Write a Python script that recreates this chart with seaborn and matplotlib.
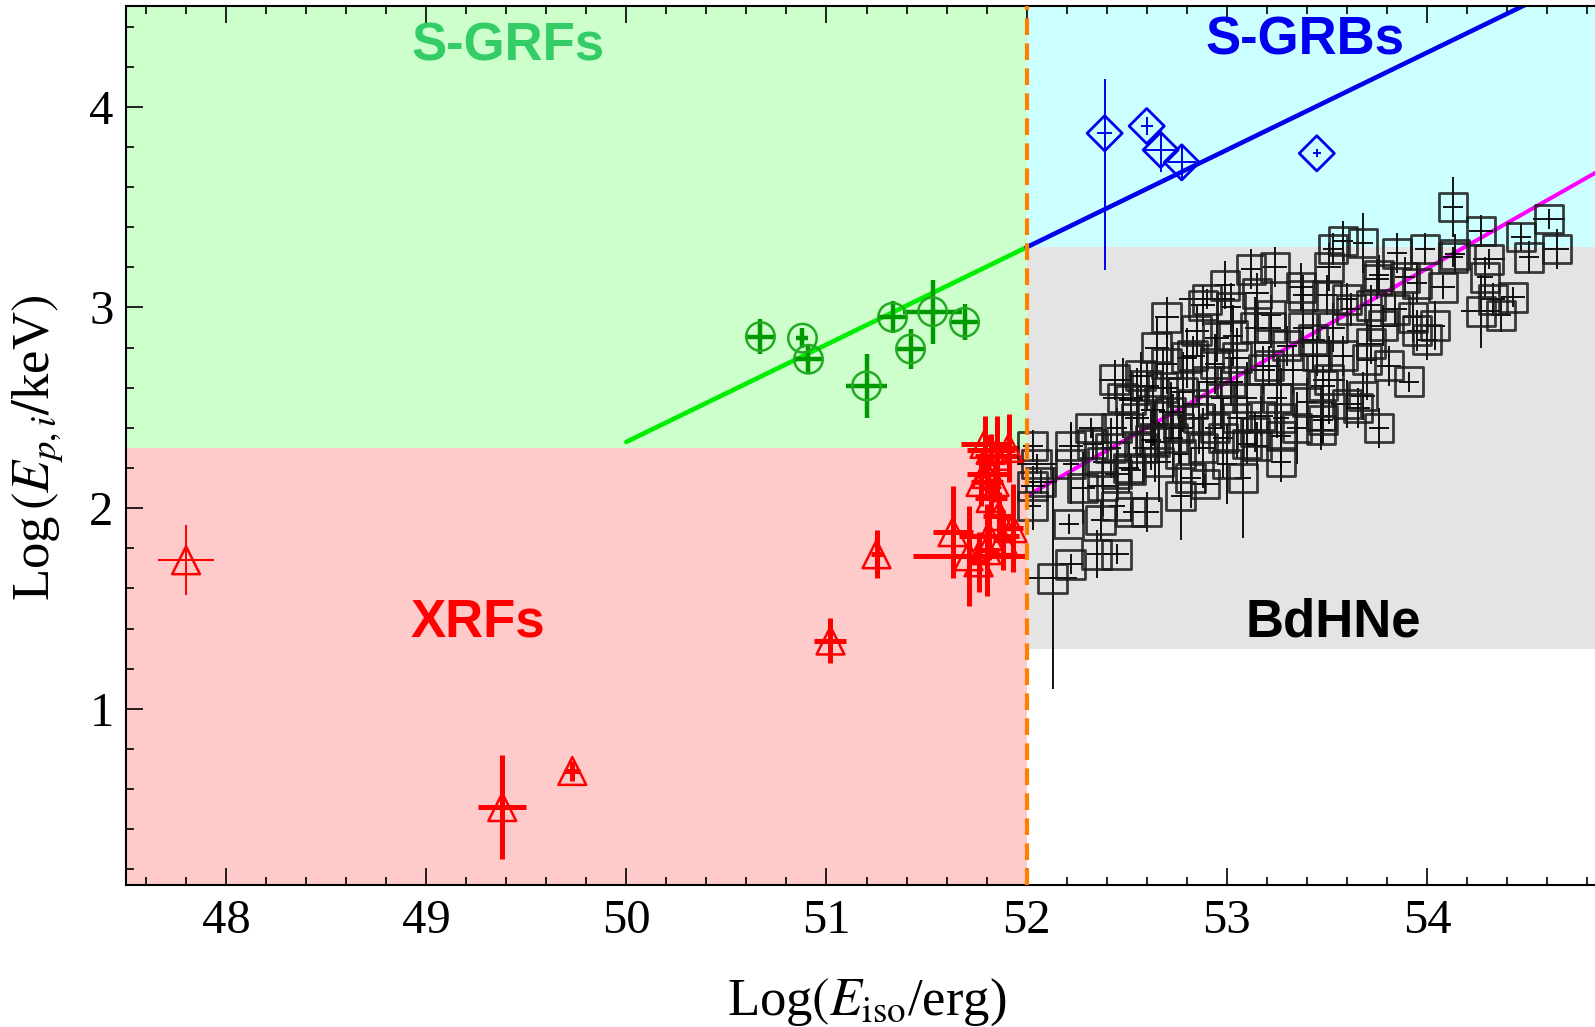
import matplotlib
matplotlib.use("Agg")
import matplotlib.pyplot as plt
from matplotlib.ticker import MultipleLocator
import seaborn as sns

# ---------------- data ----------------
# X-ray flashes (XRFs): log Eiso, log Ep,i and their uncertainties
xrf_x = [49.38, 49.73, 51.02, 51.25, 51.63, 51.71, 51.80, 51.79, 51.85, 51.91,
         51.93, 51.82, 51.80, 51.82, 51.86, 51.81, 51.77, 51.84, 51.88, 51.76]
xrf_y = [0.51, 0.69, 1.34, 1.77, 1.88, 1.76, 1.79, 2.32, 2.26, 2.30,
         1.90, 2.29, 2.17, 2.05, 1.96, 1.86, 2.13, 2.13, 1.84, 1.73]
xrf_xerr = [0.12, 0.04, 0.08, 0.03, 0.10, 0.28, 0.06, 0.12, 0.11, 0.05,
            0.05, 0.12, 0.10, 0.08, 0.08, 0.15, 0.05, 0.04, 0.05, 0.04]
xrf_yerr = [0.26, 0.05, 0.11, 0.12, 0.23, 0.25, 0.23, 0.14, 0.20, 0.17,
            0.22, 0.08, 0.10, 0.10, 0.12, 0.12, 0.12, 0.10, 0.15, 0.15]
# nearby low-energy XRF
xrf_low_x = [47.80]
xrf_low_y = [1.74]
xrf_low_xerr = [0.14]
xrf_low_yerr = [0.175]

# short gamma-ray flashes (S-GRFs)
sgrf_x = [50.67, 50.88, 50.91, 51.20, 51.33, 51.42, 51.53, 51.69]
sgrf_y = [2.855, 2.847, 2.742, 2.609, 2.951, 2.793, 2.979, 2.926]
sgrf_xerr = [0.07, 0.03, 0.067, 0.104, 0.067, 0.07, 0.148, 0.07]
sgrf_yerr = [0.087, 0.05, 0.075, 0.158, 0.079, 0.10, 0.16, 0.09]

# short gamma-ray bursts (S-GRBs)
sgrb_x = [52.39, 52.60, 52.67, 52.775, 53.45]
sgrb_y = [3.868, 3.904, 3.785, 3.723, 3.768]
sgrb_xerr = [0.037, 0.03, 0.09, 0.07, 0.02]
sgrb_yerr_lo = [0.68, 0.045, 0.11, 0.08, 0.02]
sgrb_yerr_hi = [0.27, 0.045, 0.11, 0.08, 0.02]

# binary-driven hypernovae (BdHNe)
bdhne_x = [52.03, 52.03, 52.03, 52.07, 52.05, 52.13, 52.21, 52.22, 52.22, 52.22,
           52.32, 52.35, 52.45, 52.38, 52.37, 52.45, 52.52, 52.45, 52.60, 52.52,
           52.77, 52.89, 52.44, 52.62, 52.63, 52.77, 53.10, 52.57, 52.70, 52.83,
           52.90, 53.02, 53.15, 53.14, 53.03, 53.24, 53.37, 53.38, 53.43, 54.13,
           54.27, 54.61, 54.47, 54.65, 54.51, 54.13, 54.31, 54.29, 54.43, 54.27,
           54.37, 54.08, 54.00, 53.91, 53.85, 53.68, 53.58, 53.51, 53.75, 53.95,
           53.93, 53.78, 53.72, 53.70, 53.60, 53.47, 53.47, 53.27, 53.17, 53.15,
           53.33, 53.45, 53.53, 53.62, 53.51, 53.22, 53.18, 52.33, 52.52, 52.64,
           52.72, 52.76, 52.83, 52.88, 52.94, 53.02, 53.05, 53.14, 53.21, 53.27,
           53.30, 53.48, 53.48, 53.58, 53.68, 53.72, 53.84, 53.89, 53.95, 54.04,
           53.99, 54.14, 54.33, 53.12, 52.99, 52.85, 52.70, 52.80, 52.90, 52.60,
           52.45, 52.38, 52.51, 52.66, 52.94, 52.82, 53.27, 53.40, 53.655, 53.76,
           53.81, 53.22, 53.38, 53.50, 53.60, 53.76, 53.53,
           52.48, 52.55, 52.58, 52.68, 52.73, 52.78, 52.86, 52.88, 52.97, 53.00,
           53.05, 53.08, 53.10, 52.95, 52.65, 52.98, 53.25, 53.35, 52.42, 52.28]
bdhne_y = [2.31, 2.11, 2.01, 2.13, 2.22, 1.65, 1.92, 1.72, 2.31, 2.22,
           2.40, 1.77, 1.77, 2.11, 1.94, 2.17, 2.19, 2.01, 1.98, 1.98,
           2.06, 2.12, 2.64, 2.34, 2.49, 2.27, 2.32, 2.66, 2.72, 2.76,
           3.04, 3.00, 3.07, 2.90, 2.86, 3.20, 3.10, 2.90, 2.84, 3.50,
           3.38, 3.44, 3.35, 3.29, 3.25, 3.25, 3.24, 3.15, 3.05, 2.98,
           2.96, 3.10, 2.84, 2.63, 3.27, 3.32, 3.33, 3.20, 3.14, 3.12,
           2.95, 2.91, 2.82, 2.74, 2.52, 2.46, 2.39, 2.36, 2.46, 2.31,
           2.69, 2.76, 2.90, 2.99, 2.64, 2.90, 2.69, 2.32, 2.54, 2.33,
           2.48, 2.40, 2.52, 3.01, 2.72, 2.63, 2.45, 2.38, 2.71, 2.45,
           2.81, 2.44, 2.61, 2.76, 2.56, 3.01, 2.99, 3.15, 2.885, 2.91,
           3.29, 3.265, 3.04, 3.19, 3.11, 2.885, 2.95, 2.75, 2.63, 2.61,
           2.40, 2.23, 2.20, 2.23, 2.40, 2.15, 2.23, 2.53, 2.50, 2.40,
           2.71, 2.96, 3.06, 3.06, 3.04, 3.16, 3.29,
           2.55, 2.45, 2.30, 2.60, 2.35, 2.58, 2.45, 2.30, 2.55, 2.22,
           2.75, 2.15, 2.55, 2.85, 2.80, 2.35, 2.55, 2.40, 2.30, 2.10]
bdhne_xerr = [0.05, 0.06, 0.04, 0.08, 0.10, 0.12, 0.05, 0.06, 0.06, 0.04,
              0.06, 0.05, 0.06, 0.08, 0.05, 0.06, 0.05, 0.04, 0.06, 0.04,
              0.05, 0.07, 0.08, 0.05, 0.06, 0.04, 0.05, 0.06, 0.05, 0.06,
              0.14, 0.05, 0.06, 0.05, 0.05, 0.06, 0.06, 0.05, 0.06, 0.05,
              0.06, 0.08, 0.05, 0.06, 0.05, 0.05, 0.08, 0.04, 0.06, 0.10,
              0.05, 0.06, 0.05, 0.05, 0.05, 0.05, 0.05, 0.06, 0.06, 0.05,
              0.05, 0.08, 0.06, 0.05, 0.08, 0.05, 0.06, 0.05, 0.06, 0.05,
              0.08, 0.06, 0.06, 0.05, 0.08, 0.05, 0.06, 0.05, 0.06, 0.05,
              0.06, 0.07, 0.05, 0.06, 0.05, 0.06, 0.05, 0.05, 0.06, 0.04,
              0.05, 0.05, 0.06, 0.05, 0.06, 0.05, 0.06, 0.05, 0.05, 0.05,
              0.05, 0.05, 0.06, 0.05, 0.05, 0.06, 0.06, 0.05, 0.05, 0.06,
              0.05, 0.05, 0.05, 0.06, 0.05, 0.05, 0.05, 0.05, 0.06, 0.05,
              0.06, 0.05, 0.05, 0.05, 0.05, 0.05, 0.05,
              0.10, 0.06, 0.05, 0.08, 0.05, 0.06, 0.05, 0.06, 0.05, 0.05,
              0.06, 0.04, 0.05, 0.06, 0.06, 0.05, 0.05, 0.05, 0.05, 0.06]
bdhne_yerr = [0.08, 0.10, 0.12, 0.06, 0.05, 0.55, 0.05, 0.05, 0.12, 0.20,
              0.05, 0.12, 0.05, 0.15, 0.10, 0.12, 0.08, 0.06, 0.10, 0.05,
              0.22, 0.05, 0.10, 0.15, 0.18, 0.20, 0.10, 0.12, 0.15, 0.10,
              0.05, 0.12, 0.10, 0.15, 0.15, 0.10, 0.12, 0.10, 0.15, 0.15,
              0.08, 0.05, 0.07, 0.10, 0.08, 0.05, 0.05, 0.10, 0.05, 0.18,
              0.08, 0.06, 0.10, 0.05, 0.10, 0.15, 0.10, 0.12, 0.10, 0.10,
              0.12, 0.10, 0.10, 0.20, 0.12, 0.15, 0.10, 0.10, 0.10, 0.12,
              0.12, 0.10, 0.12, 0.08, 0.22, 0.10, 0.12, 0.08, 0.15, 0.20,
              0.15, 0.18, 0.12, 0.10, 0.15, 0.12, 0.20, 0.10, 0.10, 0.25,
              0.10, 0.12, 0.10, 0.10, 0.12, 0.10, 0.08, 0.10, 0.10, 0.12,
              0.08, 0.10, 0.08, 0.10, 0.12, 0.12, 0.10, 0.15, 0.15, 0.12,
              0.10, 0.15, 0.12, 0.20, 0.12, 0.15, 0.10, 0.12, 0.10, 0.10,
              0.10, 0.10, 0.10, 0.10, 0.08, 0.10, 0.08,
              0.20, 0.25, 0.18, 0.20, 0.22, 0.20, 0.18, 0.20, 0.15, 0.20,
              0.15, 0.30, 0.18, 0.12, 0.15, 0.20, 0.20, 0.18, 0.15, 0.18]

# Ep,i - Eiso relations
sgrf_fit_x = [50.0, 52.0]
sgrf_fit_y = [2.33, 3.30]
sgrb_fit_x = [52.0, 54.84]
sgrb_fit_y = [3.30, 4.677]
bdhne_fit_x = [52.0, 54.84]
bdhne_fit_y = [2.06, 3.67]

# class boundaries
eiso_split = 52.0
sgrf_floor = 2.3
sgrb_floor = 3.3
bdhne_floor = 1.3

# ---------------- figure ----------------
sns.set_theme(style="ticks")
plt.rcParams["font.family"] = ["Liberation Serif", "DejaVu Serif"]
plt.rcParams["mathtext.fontset"] = "stix"

fig = plt.figure(figsize=(15.95, 10.27), dpi=100)
ax = fig.add_axes([0.0790, 0.1383, 0.9210, 0.8558])
x_lo, x_hi = 47.5, 54.84
y_lo, y_hi = 0.122, 4.502

# shaded class regions
ax.fill_between([x_lo, eiso_split], sgrf_floor, y_hi, color="#ccffcc", lw=0, zorder=0)
ax.fill_between([x_lo, eiso_split], y_lo, sgrf_floor, color="#ffcaca", lw=0, zorder=0)
ax.fill_between([eiso_split, x_hi], sgrb_floor, y_hi, color="#ccffff", lw=0, zorder=0)
ax.fill_between([eiso_split, x_hi], bdhne_floor, sgrb_floor, color="#e4e4e4", lw=0, zorder=0)

# correlation lines
sns.lineplot(x=sgrf_fit_x, y=sgrf_fit_y, color="#00ee00", lw=3.3, ax=ax, zorder=2)
sns.lineplot(x=sgrb_fit_x, y=sgrb_fit_y, color="#0000ee", lw=3.3, ax=ax, zorder=2)
sns.lineplot(x=bdhne_fit_x, y=bdhne_fit_y, color="#ff00ff", lw=2.9, ax=ax, zorder=2)

# BdHNe
ax.errorbar(bdhne_x, bdhne_y, xerr=bdhne_xerr, yerr=bdhne_yerr, fmt="none",
            ecolor="black", elinewidth=1.3, capsize=0, zorder=3)
sns.scatterplot(x=bdhne_x, y=bdhne_y, marker="s", s=420, color="#1a1a1a",
                facecolors="none", edgecolor="#1a1a1a", linewidth=2.0, alpha=0.85,
                ax=ax, zorder=4, legend=False)

# S-GRBs
ax.errorbar(sgrb_x, sgrb_y, xerr=sgrb_xerr, yerr=[sgrb_yerr_lo, sgrb_yerr_hi],
            fmt="none", ecolor="#0000ee", elinewidth=1.4, capsize=0, zorder=3)
sns.scatterplot(x=sgrb_x, y=sgrb_y, marker="D", s=320, color="#0000ee",
                facecolors="none", edgecolor="#0000ee", linewidth=2.0,
                ax=ax, zorder=4, legend=False)

# S-GRFs
ax.errorbar(sgrf_x, sgrf_y, xerr=sgrf_xerr, yerr=sgrf_yerr, fmt="none",
            ecolor="#009900", elinewidth=3.2, capsize=0, zorder=3)
sns.scatterplot(x=sgrf_x, y=sgrf_y, marker="o", s=420, color="#22aa22",
                facecolors="none", edgecolor="#22aa22", linewidth=1.8,
                ax=ax, zorder=4, legend=False)

# XRFs
ax.errorbar(xrf_x, xrf_y, xerr=xrf_xerr, yerr=xrf_yerr, fmt="none",
            ecolor="#ff0000", elinewidth=3.6, capsize=0, zorder=3)
ax.errorbar(xrf_low_x, xrf_low_y, xerr=xrf_low_xerr, yerr=xrf_low_yerr, fmt="none",
            ecolor="#ff0000", elinewidth=1.4, capsize=0, zorder=3)
sns.scatterplot(x=xrf_x + xrf_low_x, y=xrf_y + xrf_low_y, marker="^", s=400,
                color="#ff0000", facecolors="none", edgecolor="#ff0000",
                linewidth=1.8, ax=ax, zorder=4, legend=False)

# Eiso = 10^52 erg separation
ax.axvline(eiso_split, color="#ff8000", lw=3.0, ls=(0, (4, 2)), zorder=6)

# class labels
label_font = dict(family="Liberation Sans", fontweight="bold", fontsize=38,
                  ha="center", va="center", zorder=7)
ax.text(49.41, 4.30, "S-GRFs", color="#33cc66", **label_font)
ax.text(53.39, 4.33, "S-GRBs", color="#0000ee", **label_font)
ax.text(49.26, 1.43, "XRFs", color="#ff0000", **label_font)
ax.text(53.53, 1.43, "BdHNe", color="black", **label_font)

# axes
ax.set_xlim(x_lo, x_hi)
ax.set_ylim(y_lo, y_hi)
ax.xaxis.set_major_locator(MultipleLocator(1))
ax.xaxis.set_minor_locator(MultipleLocator(0.2))
ax.yaxis.set_major_locator(MultipleLocator(1))
ax.yaxis.set_minor_locator(MultipleLocator(0.2))
ax.tick_params(which="both", direction="in", top=True, right=False,
               width=1.2, color="black", labelsize=35, labelcolor="black")
ax.tick_params(which="major", length=12)
ax.tick_params(which="minor", length=6)
ax.tick_params(axis="x", pad=10)
ax.tick_params(axis="y", pad=9)
for side in ("left", "bottom", "top"):
    ax.spines[side].set_color("black")
    ax.spines[side].set_linewidth(1.5)
ax.spines["right"].set_visible(False)

ax.set_xlabel(r"Log$(E_{\rm iso}$/erg)", fontsize=38, color="black", va="center")
ax.set_ylabel(r"Log$\,(E_{p,i}/$keV$)$", fontsize=38, color="black",
              va="center", ha="center")
ax.xaxis.set_label_coords(0.504, -0.133)
ax.yaxis.set_label_coords(-0.060, 0.4977)

fig.savefig("out.png", dpi=100)
